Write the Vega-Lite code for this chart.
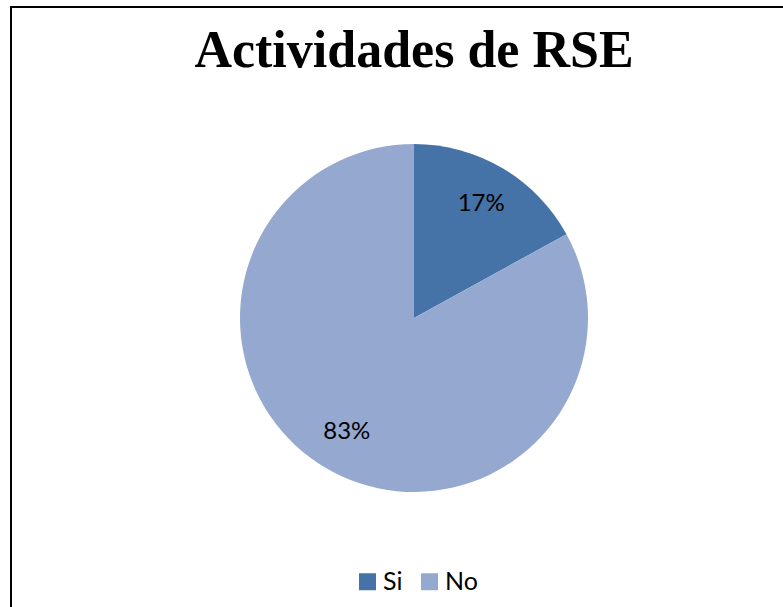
{
  "$schema": "https://vega.github.io/schema/vega-lite/v6.json",
  "autosize": {"type": "none"},
  "width": 806,
  "height": 622,
  "padding": {"left": 11, "top": 7, "right": 0, "bottom": 0},
  "background": "white",
  "view": {"stroke": "black", "strokeWidth": 2, "fill": "white"},
  "title": {
    "text": "Actividades de RSE",
    "font": "Liberation Serif",
    "fontSize": 52,
    "fontWeight": "bold",
    "color": "black",
    "anchor": "middle",
    "frame": "group",
    "orient": "top",
    "offset": -71
  },
  "data": {
    "values": [
      {"respuesta": "Si", "valor": 17, "etiqueta": "17%"},
      {"respuesta": "No", "valor": 83, "etiqueta": "83%"}
    ]
  },
  "encoding": {
    "theta": {"field": "valor", "type": "quantitative", "stack": true},
    "order": {"field": "valor", "type": "quantitative", "sort": "ascending"}
  },
  "layer": [
    {
      "mark": {"type": "arc", "radius": 174},
      "encoding": {
        "color": {
          "field": "respuesta",
          "type": "nominal",
          "scale": {"domain": ["Si", "No"], "range": ["#4572A7", "#95A9D0"]},
          "legend": {
            "title": null,
            "orient": "none",
            "direction": "horizontal",
            "legendX": 344,
            "legendY": 562,
            "symbolType": "square",
            "symbolSize": 289,
            "symbolStrokeWidth": 0,
            "labelFont": "Lato",
            "labelFontSize": 25,
            "labelColor": "black",
            "labelOffset": 3,
            "columnPadding": 14
          }
        }
      }
    },
    {
      "mark": {"type": "text", "radius": 132, "font": "Lato", "fontSize": 24},
      "encoding": {
        "text": {"field": "etiqueta"},
        "color": {"value": "black"}
      }
    }
  ]
}
